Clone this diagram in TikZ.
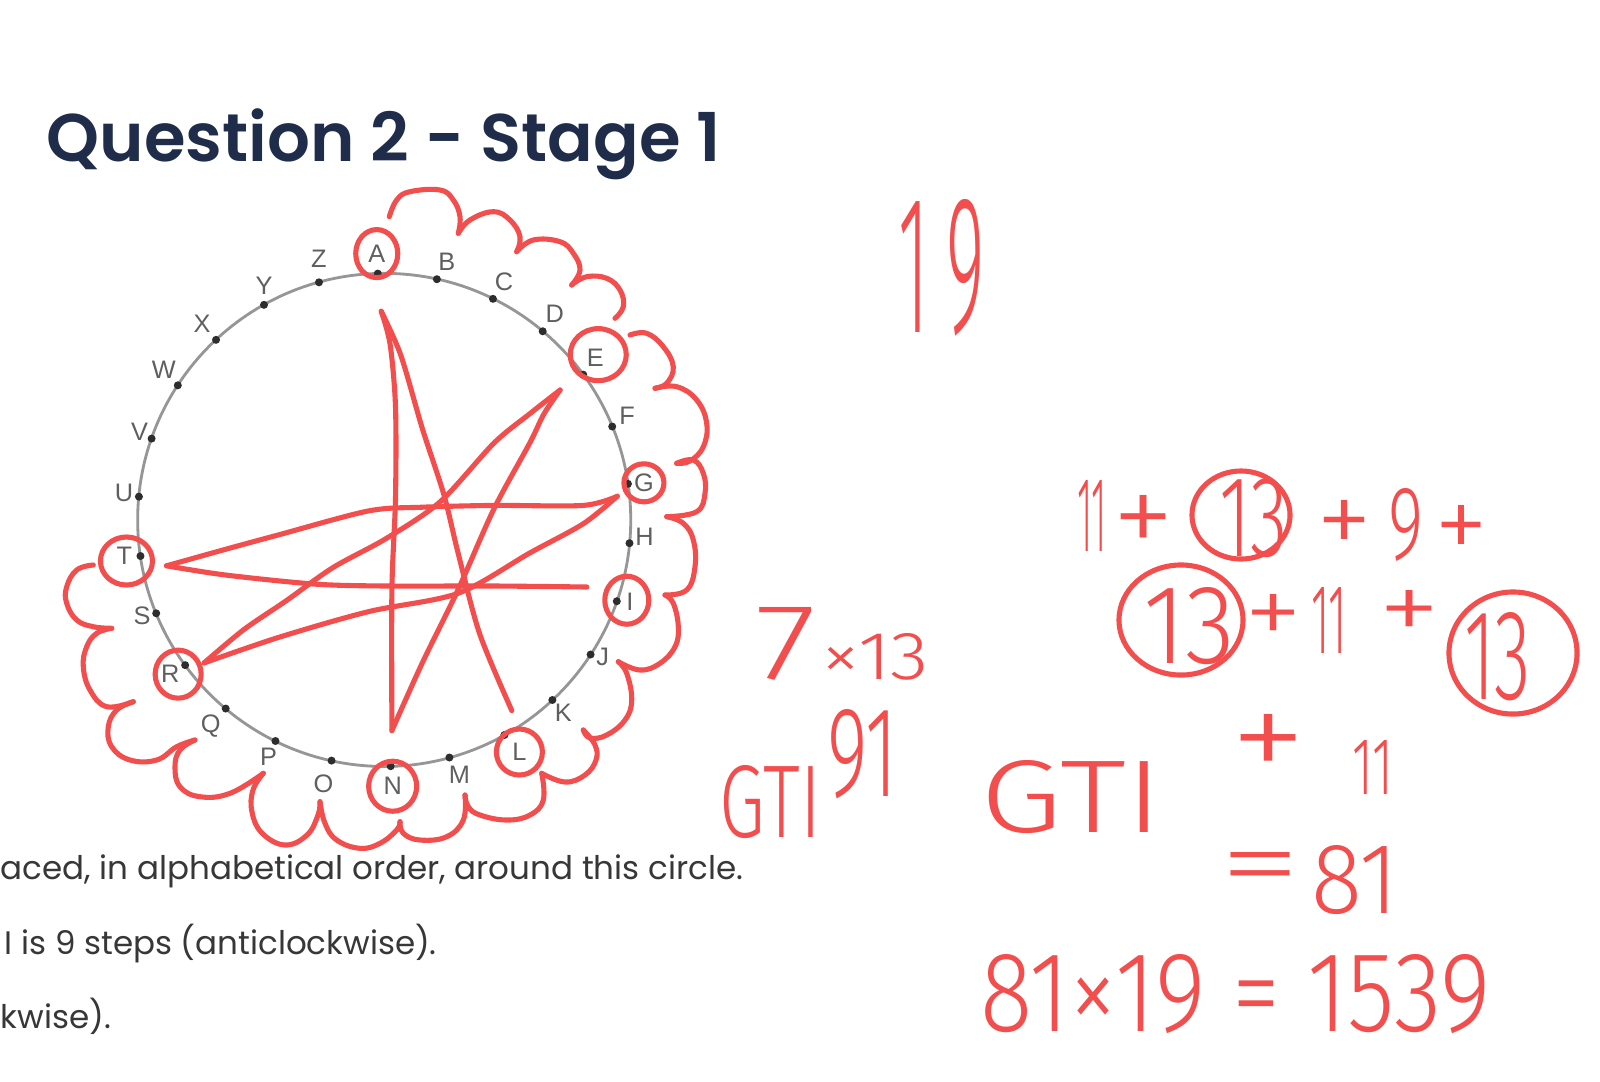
\documentclass[tikz,border=0pt]{standalone}
\usepackage{fontspec}
\usepackage{graphicx}
\setmainfont{Poppins}
\newfontfamily\titlefont{Poppins}[UprightFont=* SemiBold]
\newfontfamily\handfont{Fira Sans}[UprightFont=* Light]
\newfontfamily\lblfont{Liberation Sans}

\definecolor{handred}{RGB}{242,78,78}
\definecolor{titleblue}{RGB}{31,45,74}
\definecolor{bodygray}{RGB}{55,55,55}
\definecolor{ringgray}{RGB}{150,150,150}
\definecolor{dotgray}{RGB}{45,45,45}
\definecolor{lblgray}{RGB}{95,95,95}

\newcommand{\ringX }{384.2}
\newcommand{\ringY }{519.9}
\newcommand{\ringR }{246.4}
\newcommand{\startAng }{-91.5}
\newcommand{\stepAng }{13.846}
\newcommand{\dotR }{0.04cm}
\newcommand{\redThick }{1.45pt}
\newcommand{\ringThick }{0.8pt}

\begin{document}
\begin{tikzpicture}[x=0.01cm, y=-0.01cm,
  redpen/.style={line width= \redThick, handred, line cap=round, line join=round},
  letter/.style={inner sep=0pt, text=lblgray, font=\lblfont\fontsize{7.2}{8}\selectfont},
  handnum/.style={anchor=north west, inner sep=0pt, outer sep=0pt, text=handred, font=\handfont},
  bodytext/.style={anchor=base west, inner sep=0pt, text=bodygray, font=\fontsize{9.25}{11}\selectfont}]

  % Page:
  \fill[white] (0,0) rectangle (1600,1081);
  \useasboundingbox (0,0) rectangle (1600,1081);

  % Title and text:
  \node[anchor=base west, inner sep=0pt, text=titleblue] (title) at (46,161) {\resizebox{6.74cm}{!}{\titlefont Question 2 - Stage 1}};
  \node[bodytext] (lineA) at (0,879) {aced, in alphabetical order, around this circle.};
  \node[bodytext] (lineB) at (4,954) {I is 9 steps (anticlockwise).};
  \node[bodytext] (lineC) at (0,1028) {kwise).};

  % Circle:
  \draw[line width= \ringThick, ringgray] (\ringX,\ringY) circle (2.464cm);

  % Points and letters:
  \begin{scope}[shift={(\ringX,\ringY)}]
    \fill[dotgray] (\startAng + 0*\stepAng:\ringR) circle (\dotR) node[letter, xshift=-0.01cm, yshift= 0.20cm] (lA) {A};
    \fill[dotgray] (\startAng + 1*\stepAng:\ringR) circle (\dotR) node[letter, xshift= 0.10cm, yshift= 0.17cm] (lB) {B};
    \fill[dotgray] (\startAng + 2*\stepAng:\ringR) circle (\dotR) node[letter, xshift= 0.11cm, yshift= 0.17cm] (lC) {C};
    \fill[dotgray] (\startAng + 3*\stepAng:\ringR) circle (\dotR) node[letter, xshift= 0.12cm, yshift= 0.17cm] (lD) {D};
    \fill[dotgray] (\startAng + 4*\stepAng:\ringR) circle (\dotR) node[letter, xshift= 0.12cm, yshift= 0.17cm] (lE) {E};
    \fill[dotgray] (\startAng + 5*\stepAng:\ringR) circle (\dotR) node[letter, xshift= 0.15cm, yshift= 0.11cm] (lF) {F};
    \fill[dotgray] (\startAng + 6*\stepAng:\ringR) circle (\dotR) node[letter, xshift= 0.16cm, yshift= 0.01cm] (lG) {G};
    \fill[dotgray] (\startAng + 7*\stepAng:\ringR) circle (\dotR) node[letter, xshift= 0.15cm, yshift= 0.06cm] (lH) {H};
    \fill[dotgray] (\startAng + 8*\stepAng:\ringR) circle (\dotR) node[letter, xshift= 0.13cm, yshift=-0.01cm] (lI) {I};
    \fill[dotgray] (\startAng + 9*\stepAng:\ringR) circle (\dotR) node[letter, xshift= 0.12cm, yshift=-0.02cm] (lJ) {J};
    \fill[dotgray] (\startAng +10*\stepAng:\ringR) circle (\dotR) node[letter, xshift= 0.11cm, yshift=-0.13cm] (lK) {K};
    \fill[dotgray] (\startAng +11*\stepAng:\ringR) circle (\dotR) node[letter, xshift= 0.15cm, yshift=-0.17cm] (lL) {L};
    \fill[dotgray] (\startAng +12*\stepAng:\ringR) circle (\dotR) node[letter, xshift= 0.10cm, yshift=-0.17cm] (lM) {M};
    \fill[dotgray] (\startAng +13*\stepAng:\ringR) circle (\dotR) node[letter, xshift= 0.02cm, yshift=-0.20cm] (lN) {N};
    \fill[dotgray] (\startAng +14*\stepAng:\ringR) circle (\dotR) node[letter, xshift=-0.08cm, yshift=-0.23cm] (lO) {O};
    \fill[dotgray] (\startAng +15*\stepAng:\ringR) circle (\dotR) node[letter, xshift=-0.07cm, yshift=-0.16cm] (lP) {P};
    \fill[dotgray] (\startAng +16*\stepAng:\ringR) circle (\dotR) node[letter, xshift=-0.15cm, yshift=-0.17cm] (lQ) {Q};
    \fill[dotgray] (\startAng +17*\stepAng:\ringR) circle (\dotR) node[letter, xshift=-0.15cm, yshift=-0.09cm] (lR) {R};
    \fill[dotgray] (\startAng +18*\stepAng:\ringR) circle (\dotR) node[letter, xshift=-0.14cm, yshift=-0.02cm] (lS) {S};
    \fill[dotgray] (\startAng +19*\stepAng:\ringR) circle (\dotR) node[letter, xshift=-0.16cm, yshift= 0.00cm] (lT) {T};
    \fill[dotgray] (\startAng +20*\stepAng:\ringR) circle (\dotR) node[letter, xshift=-0.15cm, yshift= 0.04cm] (lU) {U};
    \fill[dotgray] (\startAng +21*\stepAng:\ringR) circle (\dotR) node[letter, xshift=-0.12cm, yshift= 0.07cm] (lV) {V};
    \fill[dotgray] (\startAng +22*\stepAng:\ringR) circle (\dotR) node[letter, xshift=-0.14cm, yshift= 0.16cm] (lW) {W};
    \fill[dotgray] (\startAng +23*\stepAng:\ringR) circle (\dotR) node[letter, xshift=-0.14cm, yshift= 0.16cm] (lX) {X};
    \fill[dotgray] (\startAng +24*\stepAng:\ringR) circle (\dotR) node[letter, xshift= 0.00cm, yshift= 0.19cm] (lY) {Y};
    \fill[dotgray] (\startAng +25*\stepAng:\ringR) circle (\dotR) node[letter, xshift= 0.00cm, yshift= 0.24cm] (lZ) {Z};
  \end{scope}

  % Circled letters:
  \draw[redpen] (lA.center) ellipse [x radius=0.21cm, y radius=0.24cm];
  \draw[redpen] ([shift={(3,-3)}]lE.center) ellipse [x radius=0.28cm, y radius=0.26cm];
  \draw[redpen] (lG.center) ellipse [x radius=0.20cm, y radius=0.19cm];
  \draw[redpen] ([shift={(-3,-2)}]lI.center) ellipse [x radius=0.22cm, y radius=0.24cm];
  \draw[redpen] (lL.center) ellipse [x radius=0.23cm, y radius=0.23cm];
  \draw[redpen] (lN.center) ellipse [x radius=0.24cm, y radius=0.25cm];
  \draw[redpen] ([shift={(8,0)}]lR.center) ellipse [x radius=0.23cm, y radius=0.24cm];
  \draw[redpen] ([shift={(2,5)}]lT.center) ellipse [x radius=0.26cm, y radius=0.24cm];

  % Star:
  \coordinate (sL) at (511.8,710.5);
  \coordinate (sA) at (381.2,311.2);
  \coordinate (sN) at (391.9,730.6);
  \coordinate (sE) at (560.1,390.0);
  \coordinate (sR) at (204.1,662.9);
  \coordinate (sG) at (617.3,496.2);
  \coordinate (sT) at (166.5,565.8);
  \coordinate (sI) at (586.9,587.0);
  \draw[redpen] plot[smooth, tension=0.5] coordinates {(sL) (479.6,633.6) (458.1,553) (443.8,494.4) (422.3,428.4) (400.8,355.2) (sA)};
  \draw[redpen] plot[smooth, tension=0.5] coordinates {(sA) (390.1,344.2) (395.5,406.5) (395.5,498) (391.9,589.6) (sN)};
  \draw[redpen] plot[smooth, tension=0.5] coordinates {(sN) (422.3,662.9) (458.1,589.6) (493.9,509) (529.7,443.1) (544,413.8) (sE)};
  \draw[redpen] plot[smooth, tension=0.5] coordinates {(sE) (529.7,413.8) (493.9,443.1) (440.2,501.7) (386.5,538.3) (332.9,567.6) (286.4,600.6) (243.4,629.9) (sR)};
  \draw[redpen] plot[smooth, tension=0.5] coordinates {(sR) (279.2,637.2) (368.6,611.6) (458.1,593.3) (529.7,553) (583.3,523.7) (sG)};
  \draw[redpen] plot[smooth, tension=0.5] coordinates {(sG) (583.3,505.4) (493.9,505.4) (422.3,507.2) (368.6,510.9) (279.2,534.7) (225.5,549.3) (sT)};
  \draw[redpen] plot[smooth, tension=0.5] coordinates {(sT) (225.5,575) (315,584.1) (386.5,586) (493.9,586) (sI)};

  % Cloud, top right:
  \draw[redpen] plot[smooth, tension=0.7] coordinates {(389.3,216.7) (396.7,200) (410,191.7) (440,190) (453.3,200) (460,216.7) (458.3,233.3)};
  \draw[redpen] plot[smooth, tension=0.7] coordinates {(458.3,233.3) (470,220) (493.3,211.7) (510,220) (520,236.7) (516.7,251.7)};
  \draw[redpen] plot[smooth, tension=0.7] coordinates {(516.7,251.7) (533.3,240) (560,241.7) (573.3,253.3) (580,270) (571.7,285)};
  \draw[redpen] plot[smooth, tension=0.7] coordinates {(571.7,285) (586.7,276.7) (606.7,278.3) (620,290) (623.3,306.7) (615,318.3)};
  % Cloud, right:
  \draw[redpen] plot[smooth, tension=0.7] coordinates {(630,335) (646.7,333.3) (663.3,346.7) (673.3,366.7) (666.7,383.3) (655,388.3)};
  \draw[redpen] plot[smooth, tension=0.7] coordinates {(655,388.3) (676.7,386.7) (696.7,400) (706.7,423.3) (703.3,446.7) (690,461) (676.7,463.3)};
  \draw[redpen] plot[smooth, tension=0.7] coordinates {(676.7,463.3) (693.3,460) (703.3,473.3) (705,493.3) (696.7,511.7) (666.7,516.7)};
  \draw[redpen] plot[smooth, tension=0.7] coordinates {(666.7,516.7) (683.3,523.3) (693.3,540) (695,566.7) (686.7,590) (665,595)};
  \draw[redpen] plot[smooth, tension=0.7] coordinates {(665,595) (673.3,603.3) (678.3,626.7) (675,646.7) (660,663.3) (640,670) (618.3,661.7)};
  \draw[redpen] plot[smooth, tension=0.7] coordinates {(618.3,661.7) (626.7,673.3) (631.7,700) (625,720) (606.7,735) (590,738) (583.3,730)};
  % Cloud, bottom:
  \draw[redpen] plot[smooth, tension=0.7] coordinates {(583.3,730) (595,745) (596,760) (585,775) (565,782) (541.7,773.3)};
  \draw[redpen] plot[smooth, tension=0.7] coordinates {(541.7,773.3) (543.3,800) (530,815) (506.7,820) (480,815) (468.3,806.7) (465,795)};
  \draw[redpen] plot[smooth, tension=0.7] coordinates {(465,795) (463.3,820) (446.7,836.7) (420,840) (403.3,833.3) (400,821.7)};
  \draw[redpen] plot[smooth, tension=0.7] coordinates {(400,821.7) (396.7,830) (380,843.3) (360,848.3) (336.7,840) (325,823.3) (320,801.7)};
  \draw[redpen] plot[smooth, tension=0.7] coordinates {(320,801.7) (318,815) (307,835) (285,845) (262,833) (252,812) (253,790) (263.3,773.3)};
  % Cloud, left:
  \draw[redpen] plot[smooth, tension=0.7] coordinates {(263.3,773.3) (230,793.3) (200,796.7) (180,786.7) (175,766.7) (180,750) (195,740)};
  \draw[redpen] plot[smooth, tension=0.7] coordinates {(195,740) (176.7,746.7) (156.7,760) (130,760) (111.7,746.7) (108.3,726.7) (116.7,710) (133.3,701.7)};
  \draw[redpen] plot[smooth, tension=0.7] coordinates {(133.3,701.7) (106.7,706.7) (90,690) (83.3,666.7) (86.7,646.7) (96.7,633.3) (111.7,628.3)};
  \draw[redpen] plot[smooth, tension=0.7] coordinates {(111.7,628.3) (93.3,626.7) (76.7,620) (66.7,603.3) (66.7,586.7) (76.7,570) (93.3,565)};

  % Handwriting:
  \node[handnum] (nineteen) at (898,199) {\resizebox{0.87cm}{1.33cm}{1\hspace{0.25em}9}};
  % first row
  \node[handnum] (elevenA) at (1077,480) {\resizebox{0.30cm}{0.71cm}{11}};
  \node[handnum] (plusA) at (1112,495) {\resizebox{0.62cm}{0.61cm}{+}};
  \node[handnum] (thirteenA) at (1219,478) {\resizebox{0.69cm}{0.78cm}{13}};
  \node[handnum] (plusB) at (1316,500) {\resizebox{0.56cm}{0.56cm}{+}};
  \node[handnum] (nine) at (1388,488) {\resizebox{0.35cm}{0.71cm}{9}};
  \node[handnum] (plusC) at (1434,505) {\resizebox{0.54cm}{0.56cm}{+}};
  % second row
  \node[handnum] (thirteenB) at (1143,587) {\resizebox{0.92cm}{0.76cm}{13}};
  \node[handnum] (plusD) at (1244,594) {\resizebox{0.58cm}{0.52cm}{+}};
  \node[handnum] (elevenB) at (1311,587) {\resizebox{0.36cm}{0.66cm}{11}};
  \node[handnum] (plusE) at (1378,590) {\resizebox{0.62cm}{0.52cm}{+}};
  \node[handnum] (thirteenC) at (1464,612) {\resizebox{0.67cm}{0.87cm}{13}};
  % third row
  \node[handnum] (plusF) at (1230,714) {\resizebox{0.76cm}{0.67cm}{+}};
  \node[handnum] (elevenC) at (1352,740) {\resizebox{0.41cm}{0.54cm}{11}};
  % result
  \node[handnum] (equalsA) at (1219,852) {\resizebox{0.82cm}{0.46cm}{=}};
  \node[handnum] (total) at (1311,845) {\resizebox{0.87cm}{0.68cm}{81}};
  \node[handnum] (product) at (980,954) {\resizebox{5.10cm}{0.77cm}{81×19 = 1539}};
  % left working
  \node[handnum] (seven) at (755,607) {\resizebox{0.61cm}{0.72cm}{7}};
  \node[handnum] (timesThirteen) at (821,633) {\resizebox{1.08cm}{0.46cm}{×13}};
  \node[handnum] (ninetyOne) at (827,709) {\resizebox{0.71cm}{0.87cm}{91}};
  \node[handnum] (gtiA) at (719,765) {\resizebox{1.02cm}{0.72cm}{GTI}};
  \node[handnum] (gtiB) at (980,760) {\resizebox{1.83cm}{0.72cm}{GTI}};

  % Circled thirteens:
  \draw[redpen] (1241,515) ellipse [x radius=0.49cm, y radius=0.44cm];
  \draw[redpen] (1181,620) ellipse [x radius=0.62cm, y radius=0.55cm];
  \draw[redpen] (1513,653) ellipse [x radius=0.64cm, y radius=0.61cm];

\end{tikzpicture}
\end{document}
